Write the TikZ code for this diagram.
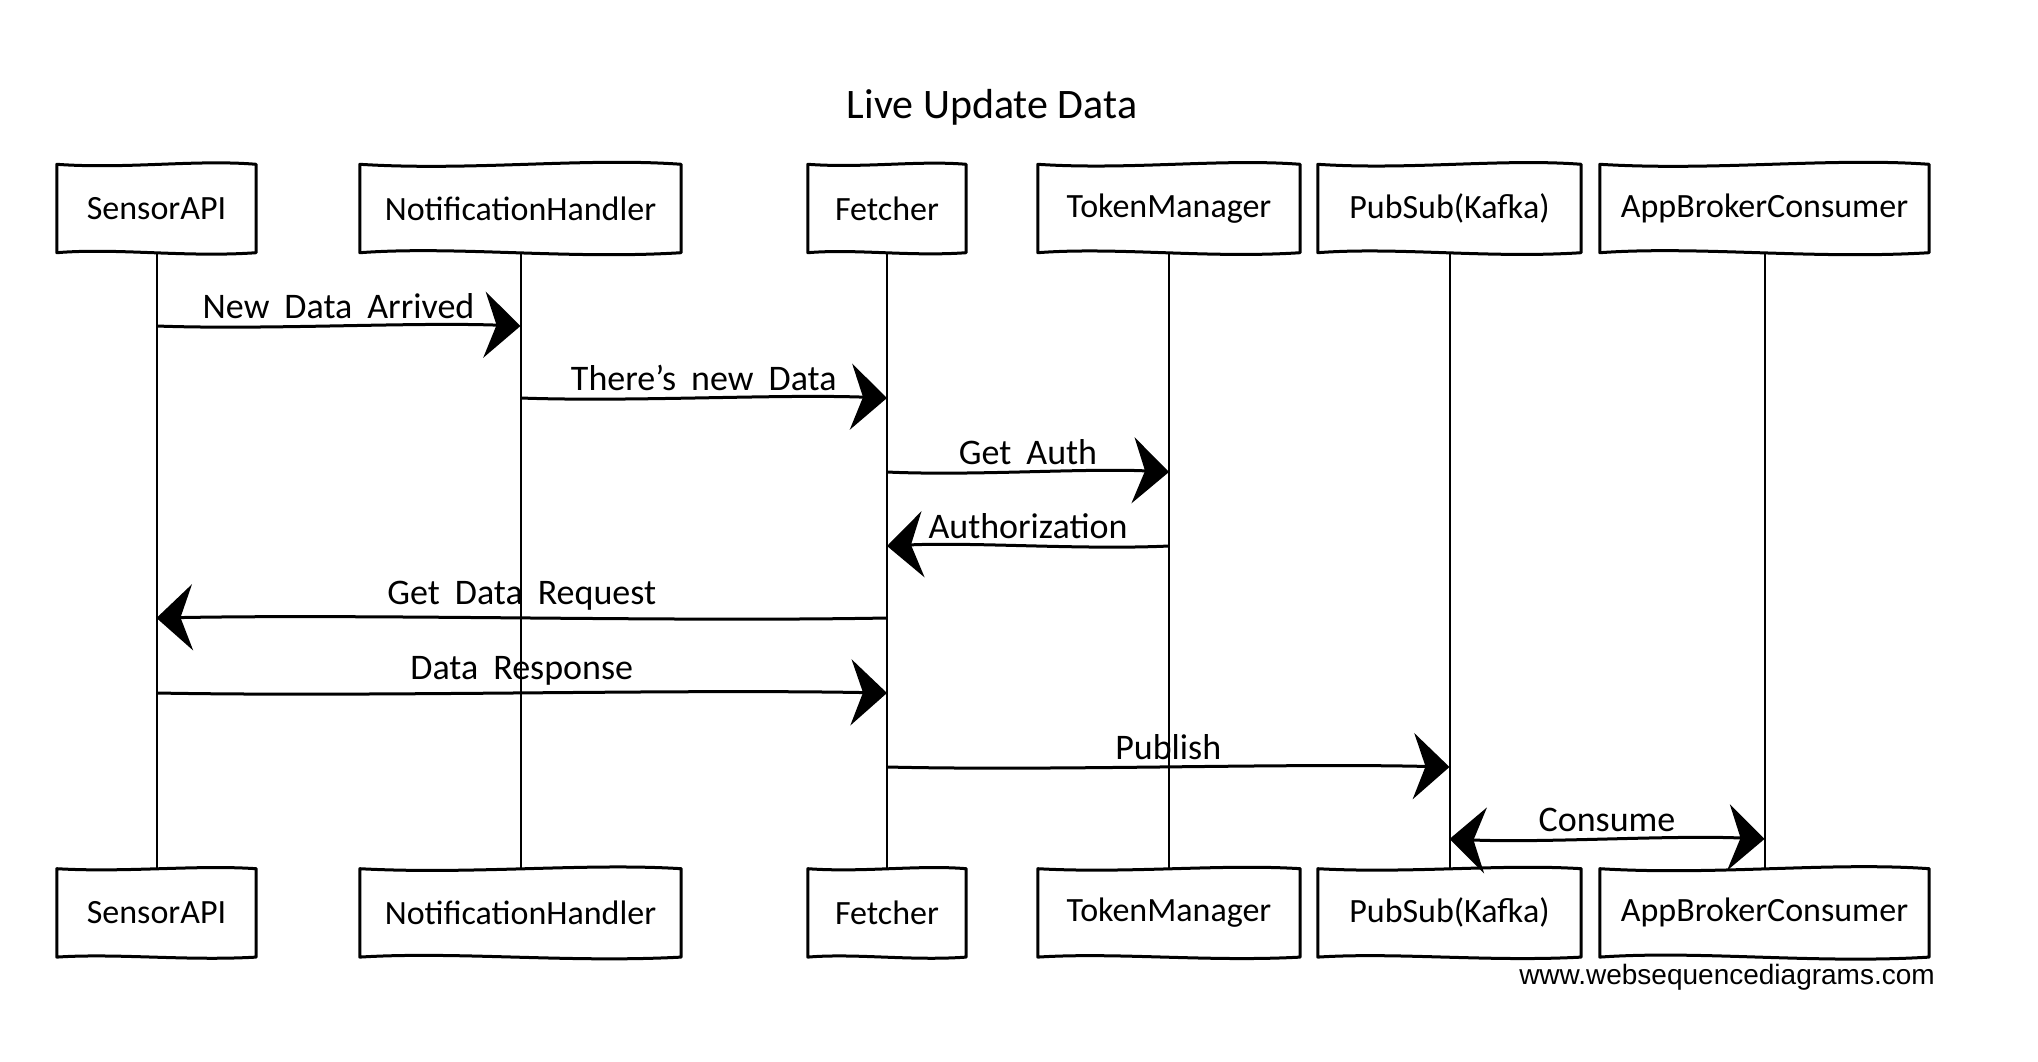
\documentclass[tikz,border=0pt]{standalone}
\usepackage{fontspec}
\setmainfont{Carlito}
\newfontfamily\footfont{Liberation Sans}
\usetikzlibrary{positioning,calc,arrows.meta}

\newcommand\lblfont{\fontsize{36}{42}\selectfont\spaceskip=15pt plus 3pt minus 2pt\relax}

\tikzset{
	big/.tip={Stealth[length=36pt,width=66pt,inset=12pt]},
	actor/.style={minimum height=88pt, inner sep=0pt, font=\fontsize{34}{40}\selectfont},
	outline/.style={line width=3pt, line join=round},
	life/.style={line width=2pt},
	msg/.style={line width=3pt, to path={.. controls ($(\tikztostart)!0.3!(\tikztotarget)+(0,4)$) and ($(\tikztostart)!0.7!(\tikztotarget)+(0,-4)$) .. (\tikztotarget) \tikztonodes}},
	lbl/.style={above=6pt, inner sep=0pt, font=\lblfont},
}

\begin{document}
\begin{tikzpicture}[x=1pt,y=-1pt]
	\useasboundingbox (0,0) rectangle (2038,1062);
	\node[font=\fontsize{42}{48}\selectfont] (title) at (992,107) {Live Update Data};

	\node[actor, minimum width=199pt] (SA) at (156.5,208.5) {SensorAPI};
	\node[actor, minimum width=321pt] (NH) at (520.5,208.5) {NotificationHandler};
	\node[actor, minimum width=158pt] (FE) at (887,208.5) {Fetcher};
	\node[actor, minimum width=262pt] (TM) at (1169,208.5) {TokenManager};
	\node[actor, minimum width=263pt] (PS) at (1449.5,208.5) {PubSub(Kafka)};
	\node[actor, minimum width=329pt] (AB) at (1764.5,208.5) {AppBrokerConsumer};

	\node[actor, minimum width=199pt, below=616pt of SA] (SAb) {SensorAPI};
	\node[actor, minimum width=321pt, below=616pt of NH] (NHb) {NotificationHandler};
	\node[actor, minimum width=158pt, below=616pt of FE] (FEb) {Fetcher};
	\node[actor, minimum width=262pt, below=616pt of TM] (TMb) {TokenManager};
	\node[actor, minimum width=263pt, below=616pt of PS] (PSb) {PubSub(Kafka)};
	\node[actor, minimum width=329pt, below=616pt of AB] (ABb) {AppBrokerConsumer};

	\foreach \n/\a in {SA/5,NH/7,FE/4,TM/6,PS/6,AB/7,SAb/4,NHb/6,FEb/4,TMb/5,PSb/5,ABb/7}
		\draw[outline] (\n.north west) .. controls ($(\n.north west)!0.35!(\n.north east)+(0,\a)$) and ($(\n.north west)!0.7!(\n.north east)+(0,-\a)$) .. (\n.north east) -- (\n.south east) .. controls ($(\n.south east)!0.35!(\n.south west)+(0,\a)$) and ($(\n.south east)!0.7!(\n.south west)+(0,-\a)$) .. (\n.south west) -- cycle;

	\foreach \n in {SA,NH,FE,TM,PS,AB}
		\draw[life] (\n.south) -- (\n b.north);

	\coordinate (m1) at (0,326);
	\coordinate (m2) at (0,398);
	\coordinate (m3) at (0,472);
	\coordinate (m4) at (0,546);
	\coordinate (m5) at (0,618);
	\coordinate (m6) at (0,693);
	\coordinate (m7) at (0,767);
	\coordinate (m8) at (0,839);

	\draw[msg,-big] (SA |- m1) to node[lbl] {New Data Arrived} (NH |- m1);
	\draw[msg,-big] (NH |- m2) to node[lbl] {There's new Data} (FE |- m2);
	\draw[msg,-big] (FE |- m3) to node[lbl] {Get Auth} (TM |- m3);
	\draw[msg,-big] (TM |- m4) to node[lbl] {Authorization} (FE |- m4);
	\draw[msg,-big] (FE |- m5) to node[lbl] {Get Data Request} (SA |- m5);
	\draw[msg,-big] (SA |- m6) to node[lbl] {Data Response} (FE |- m6);
	\draw[msg,-big] (FE |- m7) to node[lbl] {Publish} (PS |- m7);
	\draw[msg,big-big] (PS |- m8) to node[lbl] {Consume} (AB |- m8);

	\node[font=\footfont\fontsize{28}{32}\selectfont] (site) at (1727,977) {www.websequencediagrams.com};
\end{tikzpicture}
\end{document}
